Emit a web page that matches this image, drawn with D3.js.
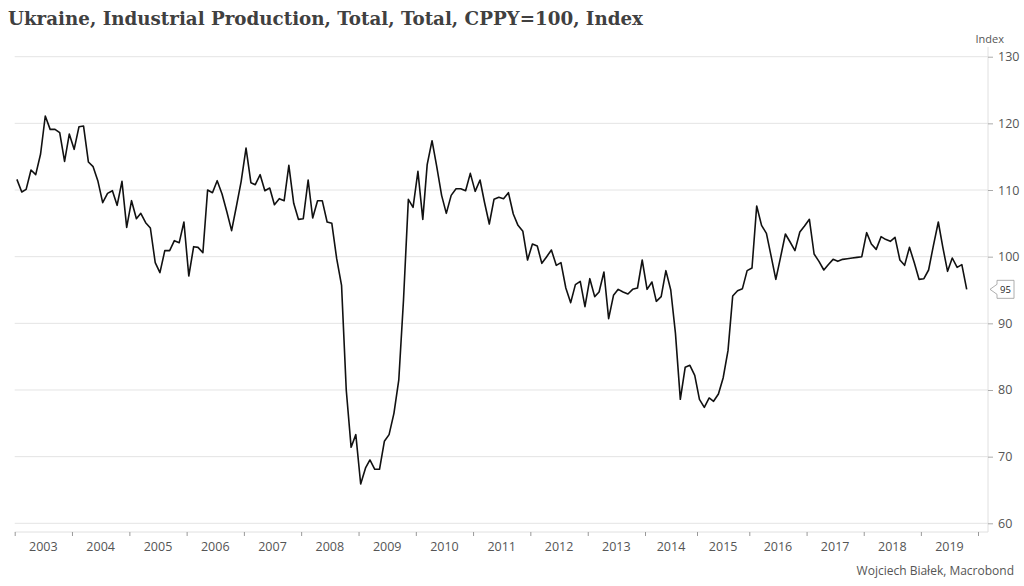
<!DOCTYPE html>
<html><head><meta charset="utf-8">
<script src="https://cdn.jsdelivr.net/npm/d3@7"></script>
<style>body{margin:0;background:#fff}svg{display:block}</style>
</head><body>
<svg id="chart" width="1024" height="586"></svg>
<script>
// ---- data ----
const startYear = 2003;
const values = [
 111.6,109.7,110.1,113.0,112.3,115.4,121.1,119.1,119.1,118.6,114.3,118.4,
 116.1,119.5,119.6,114.2,113.5,111.3,108.1,109.5,109.9,107.7,111.3,104.4,
 108.4,105.7,106.5,105.1,104.3,99.1,97.6,100.9,100.9,102.4,102.1,105.2,
 97.1,101.5,101.4,100.6,110.0,109.6,111.4,109.4,106.7,103.9,107.6,111.3,
 116.3,111.1,110.8,112.3,109.9,110.3,107.8,108.7,108.4,113.7,108.0,105.6,
 105.7,111.5,105.8,108.4,108.4,105.2,105.0,99.7,95.7,80.0,71.4,73.3,
 65.9,68.3,69.5,68.1,68.1,72.3,73.3,76.5,81.5,93.5,108.6,107.4,
 112.8,105.6,113.8,117.4,113.5,109.2,106.5,109.2,110.2,110.2,109.9,112.5,
 109.8,111.5,108.2,104.9,108.6,108.9,108.7,109.6,106.4,104.7,103.8,99.5,
 101.9,101.6,99.0,100.0,101.0,98.7,99.1,95.3,93.1,95.8,96.3,92.5,
 96.7,94.0,94.7,97.7,90.7,94.2,95.1,94.7,94.4,95.1,95.3,99.5,
 95.1,96.2,93.3,94.0,97.9,95.0,88.5,78.6,83.4,83.7,82.2,78.6,
 77.4,78.8,78.3,79.4,81.8,85.9,94.1,94.9,95.2,97.9,98.3,107.6,
 104.7,103.5,100.2,96.6,99.9,103.4,102.2,100.9,103.7,104.6,105.6,100.4,
 99.3,98.0,98.8,99.6,99.3,99.6,99.7,99.8,99.9,100.0,103.6,101.9,
 101.1,103.0,102.6,102.3,102.9,99.5,98.7,101.4,99.1,96.6,96.7,98.0,
 101.7,105.2,101.5,97.8,99.8,98.4,98.8,95.1
];
const yTicks = [60,70,80,90,100,110,120,130];
const yearLabels = [2003,2004,2005,2006,2007,2008,2009,2010,2011,2012,2013,2014,2015,2016,2017,2018,2019];
const titleText = "Ukraine, Industrial Production, Total, Total, CPPY=100, Index";
const unitText = "Index";
const sourceText = "Wojciech Białek, Macrobond";

// ---- layout ----
const svg = d3.select("#chart");
const L = 14.7, R = 988, T = 56.7, B = 523.3, AXY = 532;
const font = "'Open Sans', 'Noto Sans', sans-serif";
const D = (yy,m,d)=>new Date(Date.UTC(yy,m,d));
const data = values.map((v,i)=>({date:D(startYear, i, 15), v}));

const x = d3.scaleUtc().domain([D(2003,0,1), D(2020,0,1)]).range([L, 988.5]);
// axis scale as placed in the reference (labels/ticks slightly compressed around 2015)
const xAxisScale = d3.scaleUtc()
  .domain([D(2003,0,1), D(2014,0,1), D(2015,0,1), D(2016,0,1), D(2020,0,1)])
  .range([L, 645, 697, 749.3, 978]);
const y = d3.scaleLinear().domain([60,130]).range([B, T]);

// title
svg.append("text").attr("x",8).attr("y",25)
  .attr("font-family","'DejaVu Serif', Georgia, serif").attr("font-weight","bold")
  .attr("font-size",19).attr("fill","#404040")
  .attr("textLength",635).attr("lengthAdjust","spacingAndGlyphs")
  .text(titleText);

// gridlines
svg.append("g").selectAll("line").data(yTicks).join("line")
  .attr("x1",L).attr("x2",R).attr("y1",d=>y(d)).attr("y2",d=>y(d))
  .attr("stroke","#e4e4e4").attr("stroke-width",1);

// right vertical axis line
svg.append("line").attr("x1",R).attr("x2",R).attr("y1",47).attr("y2",AXY)
  .attr("stroke","#e0e0e0");

// y axis
const ya = svg.append("g").attr("transform",`translate(${R},0)`)
  .call(d3.axisRight(y).tickValues(yTicks).tickSize(5).tickPadding(5));
ya.select(".domain").remove();
ya.selectAll(".tick line").attr("stroke","#aaa");
ya.selectAll(".tick text").attr("font-family",font).attr("font-size",12.5).attr("fill","#555");

svg.append("text").attr("x",1004).attr("y",43).attr("text-anchor","end")
  .attr("font-family",font).attr("font-size",11).attr("fill","#555").text(unitText);

// x axis
const years = d3.range(2003, 2021).map(yy=>D(yy,0,1));
const xa = svg.append("g").attr("transform",`translate(0,${AXY})`)
  .call(d3.axisBottom(xAxisScale).tickValues(years).tickSize(4).tickFormat(""));
xa.select(".domain").attr("stroke","#e0e0e0").attr("d",`M${L},0H${R}`);
xa.selectAll(".tick line").attr("stroke","#999");
svg.append("g").selectAll("text").data(yearLabels).join("text")
  .attr("x",d=>(xAxisScale(D(d,0,1))+xAxisScale(D(d+1,0,1)))/2).attr("y",551)
  .attr("text-anchor","middle").attr("font-family",font).attr("font-size",12.5)
  .attr("fill","#555").text(d=>d);

// line
svg.append("path").datum(data)
  .attr("fill","none").attr("stroke","#111").attr("stroke-width",1.6)
  .attr("stroke-linejoin","round")
  .attr("d", d3.line().x(d=>x(d.date)).y(d=>y(d.v)));

// end label
const last = data[data.length-1];
const yl = y(last.v);
svg.append("path")
  .attr("d",`M${R+2},${yl} L${R+9},${yl-5} L${R+9},${yl-9} L${R+26},${yl-9} L${R+26},${yl+9} L${R+9},${yl+9} L${R+9},${yl+5} Z`)
  .attr("fill","#fff").attr("stroke","#999").attr("stroke-width",0.8);
svg.append("text").attr("x",R+17.5).attr("y",yl+3.5).attr("text-anchor","middle")
  .attr("font-family",font).attr("font-size",9.5).attr("fill","#222")
  .text(Math.round(last.v));

// source
svg.append("text").attr("x",1014).attr("y",575).attr("text-anchor","end")
  .attr("font-family",font).attr("font-size",12).attr("fill","#555").text(sourceText);
</script>
</body></html>
